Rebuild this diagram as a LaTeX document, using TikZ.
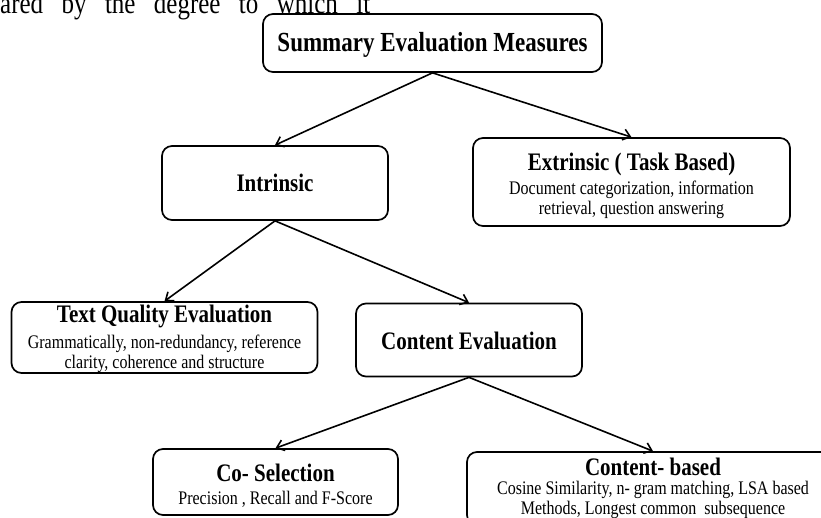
\documentclass[tikz,border=0pt]{standalone}
\usepackage{fontspec}
\setmainfont{Liberation Serif}
\usepackage{graphicx}
\usepackage{tikz}
\usetikzlibrary{arrows.meta}

\tikzset{
  mbox/.style={draw,line width=1.7pt,rounded corners=10pt,inner sep=0pt,align=center,
    font=\fontsize{16}{16.7}\selectfont},
  arr/.style={->,line width=1.6pt},
}
% heading line and tall (stretched) text block, lowered by #1
\newcommand{\hd}[1]{{\fontsize{21}{25}\selectfont\bfseries #1}}
\newcommand{\tall}[2][4pt]{\raisebox{-#1}[\height][\depth]{\scalebox{1}[1.2]{\begin{tabular}{@{}c@{}}#2\end{tabular}}}}

\begin{document}
\begin{tikzpicture}[x=1pt,y=-1pt,>={Straight Barb[length=7pt,width=11pt]},line cap=round,line join=round]
\useasboundingbox (0,0) rectangle (821,517);
% cut line of body text above the figure
\node[anchor=base west,inner sep=0pt,font=\fontsize{25}{30}\selectfont] (bodyline) at (0,13)
  {\scalebox{1}[1.2]{\makebox[370pt][s]{ared by the degree to which it}}};
% top level
\node[mbox,minimum width=339pt,minimum height=58pt] (summary) at (432.5,43)
  {\tall[2pt]{\fontsize{23}{27}\selectfont\bfseries Summary Evaluation Measures}};
% second level
\node[mbox,minimum width=226pt,minimum height=74pt] (intrinsic) at (275,183) {\tall[3pt]{\hd{Intrinsic}}};
\node[mbox,minimum width=317pt,minimum height=88pt] (extrinsic) at (631.5,182)
  {\tall[5pt]{\hd{Extrinsic ( Task Based)}\\[3pt]Document categorization, information\\retrieval, question answering}};
% third level
\node[mbox,minimum width=306pt,minimum height=71pt] (textquality) at (164.5,337.5)
  {\tall[2.5pt]{\hd{Text Quality Evaluation}\\[5pt]Grammatically, non-redundancy, reference\\clarity, coherence and structure}};
\node[mbox,minimum width=226pt,minimum height=73pt] (contenteval) at (469,340) {\tall{\hd{Content Evaluation}}};
% fourth level
\node[mbox,minimum width=245pt,minimum height=66pt] (coselection) at (275.5,482)
  {\tall[5.5pt]{\hd{Co- Selection}\\[2.5pt]Precision , Recall and F-Score}};
\node[mbox,minimum width=372pt,minimum height=73pt] (contentbased) at (653,488.5)
  {\tall[0.5pt]{\hd{Content- based}\\[-1pt]Cosine Similarity, n- gram matching, LSA based\\Methods, Longest common\ \ subsequence}};
% connectors
\draw[arr] (summary.south) -- (intrinsic.north);
\draw[arr] (summary.south) -- (extrinsic.north);
\draw[arr] (intrinsic.south) -- (textquality.north);
\draw[arr] (intrinsic.south) -- (contenteval.north);
\draw[arr] (contenteval.south) -- (coselection.north);
\draw[arr] (contenteval.south) -- (contentbased.north);
\end{tikzpicture}
\end{document}
